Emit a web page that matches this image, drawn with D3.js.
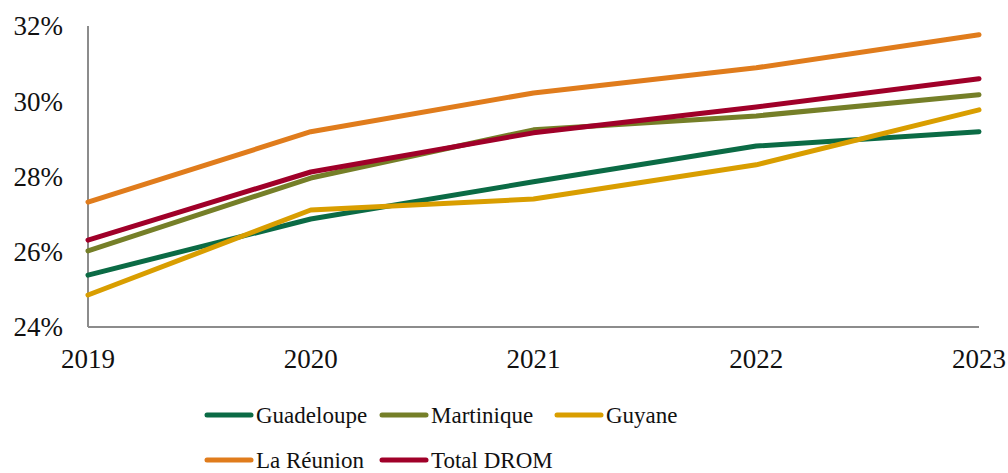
<!DOCTYPE html>
<html><head><meta charset="utf-8">
<script src="https://cdn.jsdelivr.net/npm/d3@7"></script>
<style>body{margin:0;background:#fff}svg{display:block}</style>
</head><body>
<svg id="c" width="1008" height="473"></svg>
<script>
const years = [2019, 2020, 2021, 2022, 2023];
const yTicks = [24, 26, 28, 30, 32];
const seriesNames = ["Guadeloupe", "Martinique", "Guyane", "La Réunion", "Total DROM"];
const guadeloupe = [25.38, 26.87, 27.86, 28.81, 29.19];
const martinique = [26.02, 27.96, 29.24, 29.61, 30.17];
const guyane = [24.85, 27.11, 27.40, 28.31, 29.77];
const reunion = [27.32, 29.19, 30.22, 30.89, 31.77];
const totalDrom = [26.31, 28.12, 29.16, 29.85, 30.60];
const colors = ["#0b6b45", "#757f28", "#d99e00", "#e07c1c", "#a00029"];

const series = [guadeloupe, martinique, guyane, reunion, totalDrom];
const drawOrder = [3, 1, 0, 2, 4];
const svg = d3.select("#c");
const font = "'Liberation Serif', serif";
const x = d3.scaleLinear().domain([2019, 2023]).range([88, 979]);
const y = d3.scaleLinear().domain([24, 32]).range([327, 26]);

// axes
svg.append("line").attr("x1", 88).attr("x2", 88).attr("y1", 26).attr("y2", 327)
  .attr("stroke", "#8c8c8c").attr("stroke-width", 2);
svg.append("line").attr("x1", 88).attr("x2", 979).attr("y1", 327).attr("y2", 327)
  .attr("stroke", "#8c8c8c").attr("stroke-width", 2);

svg.selectAll("text.yt").data(yTicks).enter().append("text")
  .attr("class", "yt").attr("x", 63).attr("y", d => y(d)).attr("dy", "0.35em")
  .attr("text-anchor", "end").attr("font-family", font).attr("font-size", 27)
  .attr("fill", "#111").text(d => d + "%");
svg.selectAll("text.xt").data(years).enter().append("text")
  .attr("class", "xt").attr("x", d => x(d)).attr("y", 368)
  .attr("text-anchor", "middle").attr("font-family", font).attr("font-size", 27)
  .attr("fill", "#111").text(d => d);

const line = d3.line().x((d, i) => x(years[i])).y(d => y(d));
drawOrder.forEach(k => {
  svg.append("path").attr("d", line(series[k])).attr("fill", "none")
    .attr("stroke", colors[k]).attr("stroke-width", 5)
    .attr("stroke-linecap", "round").attr("stroke-linejoin", "round");
});

// legend
const legPos = [[207, 415], [382, 415], [557, 415], [207, 460], [382, 460]];
seriesNames.forEach((n, k) => {
  const [lx, ly] = legPos[k];
  svg.append("line").attr("x1", lx).attr("x2", lx + 44).attr("y1", ly).attr("y2", ly)
    .attr("stroke", colors[k]).attr("stroke-width", 5).attr("stroke-linecap", "round");
  svg.append("text").attr("x", lx + 49).attr("y", ly).attr("dy", "0.33em")
    .attr("font-family", font).attr("font-size", 23).attr("fill", "#111").text(n);
});
</script>
</body></html>
